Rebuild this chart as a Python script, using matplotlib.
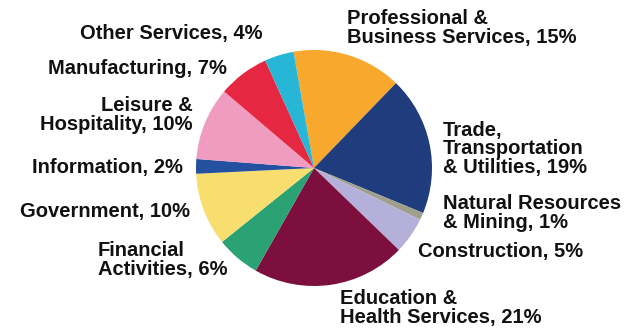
import matplotlib
matplotlib.use("Agg")
import matplotlib.pyplot as plt

sectors = [
    "Professional &\nBusiness Services",
    "Trade,\nTransportation\n& Utilities",
    "Natural Resources\n& Mining",
    "Construction",
    "Education &\nHealth Services",
    "Financial\nActivities",
    "Government",
    "Information",
    "Leisure &\nHospitality",
    "Manufacturing",
    "Other Services",
]
shares = [15, 19, 1, 5, 21, 6, 10, 2, 10, 7, 4]
colors = [
    "#F7A82D", "#1F3C7C", "#9E9F8C", "#B5B0DA", "#7C0F3D", "#2AA274",
    "#F7DE6E", "#2450A0", "#F09CC0", "#E62741", "#27B6D6",
]

# label anchor (x, y from top in pixels) and horizontal alignment
label_pos = [
    (347, 28, "left"),
    (443, 149, "left"),
    (443, 213, "left"),
    (418, 252, "left"),
    (340, 308, "left"),
    (98, 260, "left"),
    (190, 212, "right"),
    (183, 167, "right"),
    (193, 115, "right"),
    (227, 68, "right"),
    (263, 33, "right"),
]

W, H = 639, 328
fig = plt.figure(figsize=(W / 100, H / 100), dpi=100)
ax = fig.add_axes([0, 0, 1, 1])

ax.pie(shares, colors=colors, startangle=100, counterclock=False,
       center=(314, H - 168), radius=118, frame=True,
       wedgeprops=dict(linewidth=0))
ax.set_xlim(0, W)
ax.set_ylim(0, H)
ax.set_aspect("equal")
ax.axis("off")

for name, val, (x, y, ha) in zip(sectors, shares, label_pos):
    ax.text(x, H - y, f"{name}, {val}%", ha=ha, va="center",
            family="Liberation Sans", fontweight="bold", fontsize=14.5,
            color="#111111", linespacing=0.95, multialignment=ha)

fig.savefig("out.png", dpi=100, facecolor="white")
